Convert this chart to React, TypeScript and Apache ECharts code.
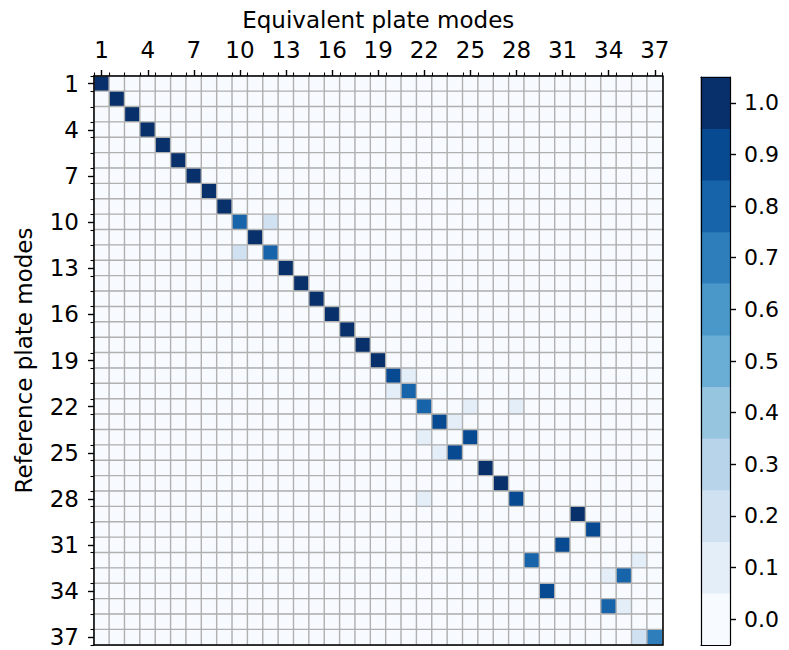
import React, { useEffect, useRef } from "react";
import * as echarts from "echarts";

// Mode numbers (categories on both axes)
const modes = [
  "1", "2", "3", "4", "5", "6", "7", "8", "9", "10", "11", "12", "13", "14", "15", "16", "17", "18", "19",
  "20", "21", "22", "23", "24", "25", "26", "27", "28", "29", "30", "31", "32", "33", "34", "35", "36", "37",
];

// Non-zero MAC entries: reference mode (row), equivalent mode (column), value
const refModes = [
  1, 2, 3, 4, 5, 6, 7, 8, 9,
  10, 10, 11, 12, 12,
  13, 14, 15, 16, 17, 18, 19,
  20, 20, 21, 21,
  22, 22, 22, 23, 23, 24, 24, 25, 25,
  26, 27, 28, 28,
  29, 30, 31, 32, 32, 33, 33, 34, 35, 35,
  37, 37,
];
const eqModes = [
  1, 2, 3, 4, 5, 6, 7, 8, 9,
  10, 12, 11, 10, 12,
  13, 14, 15, 16, 17, 18, 19,
  20, 21, 20, 21,
  22, 25, 28, 23, 24, 22, 25, 23, 24,
  26, 27, 22, 28,
  32, 33, 31, 29, 36, 34, 35, 30, 34, 35,
  36, 37,
];
const macValues = [
  1.0, 0.99, 0.99, 0.99, 0.98, 0.99, 0.98, 0.99, 0.98,
  0.79, 0.19, 0.98, 0.19, 0.79,
  0.99, 0.98, 0.99, 0.98, 0.99, 0.98, 0.97,
  0.91, 0.09, 0.09, 0.8,
  0.79, 0.08, 0.08, 0.9, 0.09, 0.08, 0.9, 0.09, 0.9,
  0.98, 0.98, 0.08, 0.91,
  0.98, 0.91, 0.92, 0.8, 0.09, 0.09, 0.8, 0.91, 0.8, 0.09,
  0.2, 0.71,
];

// Colorbar
const colorbarTicks = [0.0, 0.1, 0.2, 0.3, 0.4, 0.5, 0.6, 0.7, 0.8, 0.9, 1.0];
const colorbarLabels = ["0.0", "0.1", "0.2", "0.3", "0.4", "0.5", "0.6", "0.7", "0.8", "0.9", "1.0"];
const blues = [
  "#f7fbff", "#e3eef9", "#d0e2f2", "#b7d4ea", "#95c5df", "#6aaed6",
  "#4a98c9", "#2e7ebc", "#1764ab", "#084a91", "#08306b",
];

const FONT = "DejaVu Sans";

export default function App() {
  const ref = useRef<HTMLDivElement>(null);
  useEffect(() => {
    if (!ref.current) return;
    const chart = echarts.init(ref.current, null, { renderer: "svg" });

    const lookup: Record<string, number> = {};
    refModes.forEach((r, i) => {
      lookup[`${r - 1}_${eqModes[i] - 1}`] = macValues[i];
    });
    const mainData: number[][] = [];
    for (let r = 0; r < modes.length; r++) {
      for (let c = 0; c < modes.length; c++) {
        mainData.push([c, r, lookup[`${r}_${c}`] ?? 0]);
      }
    }
    const cbData = colorbarTicks.map((v, i) => [0, i, v]);

    const pieces = colorbarTicks.map((v, i) => ({
      gte: v - 0.05,
      lt: v + 0.05 + (i === colorbarTicks.length - 1 ? 0.01 : 0),
      color: blues[i],
    }));

    const black = "#000";
    const frameLine = { show: true, lineStyle: { color: black, width: 1.5 } };
    const noLine = { show: false };

    const option: any = {
      animation: false,
      backgroundColor: "#fff",
      textStyle: { fontFamily: FONT },
      grid: [
        { left: 94, top: 76, width: 568.5, height: 569, containLabel: false },
        { left: 701, top: 77, width: 29, height: 568, containLabel: false },
      ],
      visualMap: {
        type: "piecewise",
        show: false,
        seriesIndex: [0, 1],
        pieces,
      },
      xAxis: [
        {
          gridIndex: 0,
          type: "category",
          data: modes,
          position: "top",
          z: 10,
          axisLine: frameLine,
          axisTick: { show: true, interval: 2, alignWithLabel: true, length: 6, lineStyle: { color: black, width: 1.4 } },
          axisLabel: { interval: 2, fontSize: 23, color: black, fontFamily: FONT, margin: 15 },
          splitLine: { show: false },
          name: "Equivalent plate modes",
          nameLocation: "middle",
          nameGap: 45,
          nameTextStyle: { fontSize: 23, color: black, fontFamily: FONT },
        },
        {
          gridIndex: 0,
          type: "category",
          data: modes,
          position: "top",
          z: 10,
          axisLine: noLine,
          axisTick: { show: true, interval: 0, alignWithLabel: false, length: 3.5, lineStyle: { color: black, width: 1.1 } },
          axisLabel: { show: false },
          splitLine: { show: false },
        },
        {
          gridIndex: 0,
          type: "category",
          data: modes,
          position: "bottom",
          z: 10,
          axisLine: frameLine,
          axisTick: { show: false },
          axisLabel: { show: false },
          splitLine: { show: false },
        },
        {
          gridIndex: 1,
          type: "category",
          data: [""],
          position: "bottom",
          z: 10,
          axisLine: { show: true, lineStyle: { color: black, width: 1.2 } },
          axisTick: { show: false },
          axisLabel: { show: false },
        },
        {
          gridIndex: 1,
          type: "category",
          data: [""],
          position: "top",
          z: 10,
          axisLine: { show: true, lineStyle: { color: black, width: 1.2 } },
          axisTick: { show: false },
          axisLabel: { show: false },
        },
      ],
      yAxis: [
        {
          gridIndex: 0,
          type: "category",
          data: modes,
          inverse: true,
          position: "left",
          z: 10,
          axisLine: frameLine,
          axisTick: { show: true, interval: 2, alignWithLabel: true, length: 6, lineStyle: { color: black, width: 1.4 } },
          axisLabel: { interval: 2, fontSize: 23, color: black, fontFamily: FONT, margin: 15 },
          splitLine: { show: false },
          name: "Reference plate modes",
          nameLocation: "middle",
          nameRotate: 90,
          nameGap: 59,
          nameTextStyle: { fontSize: 23, color: black, fontFamily: FONT },
        },
        {
          gridIndex: 0,
          type: "category",
          data: modes,
          inverse: true,
          position: "left",
          z: 10,
          axisLine: noLine,
          axisTick: { show: true, interval: 0, alignWithLabel: false, length: 3.5, lineStyle: { color: black, width: 1.1 } },
          axisLabel: { show: false },
          splitLine: { show: false },
        },
        {
          gridIndex: 0,
          type: "category",
          data: modes,
          inverse: true,
          position: "right",
          z: 10,
          axisLine: frameLine,
          axisTick: { show: false },
          axisLabel: { show: false },
          splitLine: { show: false },
        },
        {
          gridIndex: 1,
          type: "category",
          data: colorbarLabels,
          position: "right",
          z: 10,
          axisLine: { show: true, lineStyle: { color: black, width: 1.2 } },
          axisTick: { show: true, alignWithLabel: true, interval: 0, length: 6, lineStyle: { color: black, width: 1.4 } },
          axisLabel: { interval: 0, fontSize: 22, color: black, fontFamily: FONT, margin: 14 },
          splitLine: { show: false },
        },
        {
          gridIndex: 1,
          type: "category",
          data: colorbarLabels,
          position: "left",
          z: 10,
          axisLine: { show: true, lineStyle: { color: black, width: 1.2 } },
          axisTick: { show: false },
          axisLabel: { show: false },
        },
      ],
      series: [
        {
          type: "heatmap",
          xAxisIndex: 0,
          yAxisIndex: 0,
          data: mainData,
          itemStyle: { borderColor: "#b0b0b0", borderWidth: 1.4 },
          emphasis: { disabled: true },
        },
        {
          type: "heatmap",
          xAxisIndex: 3,
          yAxisIndex: 3,
          data: cbData,
          itemStyle: { borderWidth: 0 },
          emphasis: { disabled: true },
        },
      ],
    };
    chart.setOption(option);
    return () => chart.dispose();
  }, []);
  return (
    <div
      ref={ref}
      style={{ position: "fixed", left: 0, top: 0, width: 789, height: 650, background: "#fff" }}
    />
  );
}
